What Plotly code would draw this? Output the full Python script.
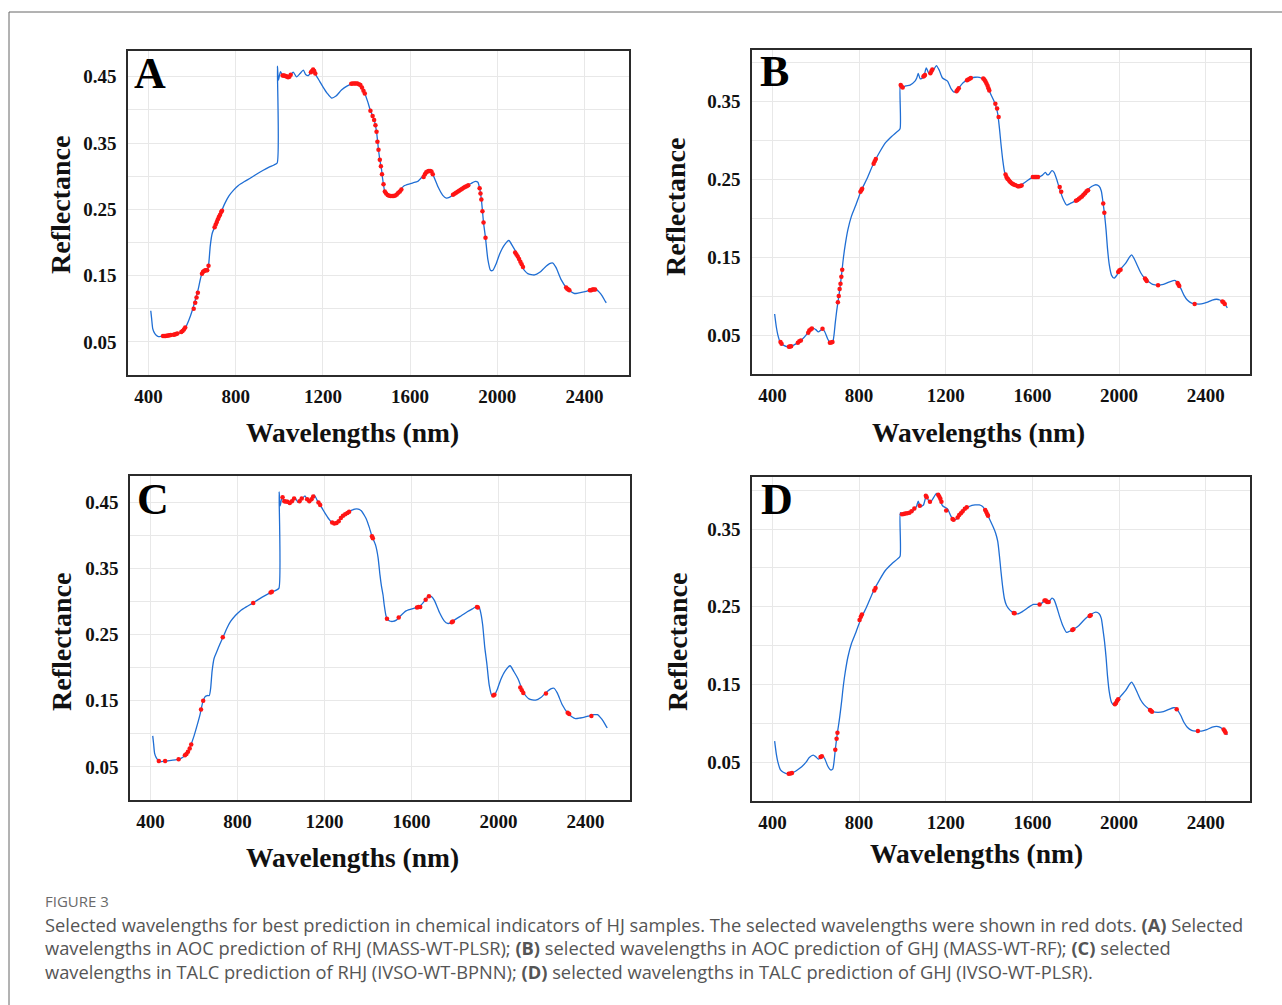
import plotly.graph_objects as go

W, H = 1282, 1005

# ---------------- data ----------------
# RHJ mean spectrum (panels A and C)
RHJ_WL = [410, 414, 419, 426, 435, 445, 460, 475, 495, 520, 540, 555, 570, 585, 600, 615, 628, 640,
          650, 660, 670, 676, 683, 692, 703, 718, 733, 750, 768, 790, 812, 840, 866, 895, 926, 955,
          975, 990, 991, 996, 1005, 1015, 1030, 1042, 1052, 1064, 1079, 1095, 1110, 1122, 1133, 1145,
          1153, 1165, 1180, 1200, 1220, 1240, 1260, 1285, 1310, 1339, 1355, 1369, 1382, 1392, 1405,
          1418, 1435, 1446, 1455, 1461, 1469, 1474, 1484, 1497, 1514, 1530, 1545, 1575, 1613, 1634,
          1655, 1675, 1690, 1705, 1728, 1750, 1766, 1780, 1797, 1830, 1858, 1880, 1896, 1911, 1919,
          1927, 1937, 1946, 1957, 1969, 1980, 1995, 2010, 2030, 2053, 2071, 2090, 2114, 2140, 2171,
          2195, 2217, 2240, 2255, 2270, 2293, 2319, 2337, 2354, 2375, 2392, 2415, 2438, 2455, 2468,
          2482, 2496, 2500]
RHJ_REF = [0.097, 0.085, 0.070, 0.064, 0.060, 0.058, 0.0585, 0.059, 0.060, 0.061, 0.063, 0.066, 0.072,
           0.083, 0.097, 0.114, 0.130, 0.148, 0.156, 0.158, 0.158, 0.168, 0.195, 0.214, 0.223, 0.235,
           0.246, 0.259, 0.270, 0.279, 0.286, 0.292, 0.297, 0.303, 0.309, 0.314, 0.317, 0.320, 0.466,
           0.445, 0.458, 0.452, 0.451, 0.449, 0.453, 0.457, 0.450, 0.455, 0.460, 0.453, 0.452, 0.457,
           0.461, 0.454, 0.446, 0.435, 0.425, 0.418, 0.421, 0.430, 0.436, 0.440, 0.440, 0.4375, 0.431,
           0.425, 0.413, 0.399, 0.385, 0.367, 0.340, 0.325, 0.310, 0.296, 0.277, 0.271, 0.270, 0.272,
           0.277, 0.286, 0.290, 0.292, 0.299, 0.307, 0.308, 0.302, 0.284, 0.271, 0.267, 0.268, 0.272,
           0.279, 0.285, 0.289, 0.292, 0.291, 0.282, 0.265, 0.230, 0.207, 0.174, 0.158, 0.158, 0.168,
           0.182, 0.195, 0.203, 0.194, 0.183, 0.163, 0.153, 0.151, 0.155, 0.162, 0.168, 0.169, 0.162,
           0.144, 0.131, 0.126, 0.123, 0.124, 0.125, 0.127, 0.129, 0.129, 0.125, 0.119, 0.111, 0.109]

# GHJ mean spectrum (panels B and D)
GHJ_WL = [410, 418, 425, 437, 450, 470, 490, 510, 535, 555, 570, 588, 600, 612, 622, 632, 642, 655,
          668, 678, 684, 690, 696, 702, 708, 714, 720, 727, 736, 748, 765, 785, 809, 835, 866, 895,
          922, 950, 975, 989, 990, 1000, 1015, 1035, 1058, 1066, 1073, 1082, 1097, 1110, 1120, 1130,
          1145, 1157, 1170, 1185, 1208, 1225, 1238, 1250, 1265, 1280, 1308, 1335, 1355, 1370, 1383,
          1395, 1410, 1420, 1430, 1440, 1448, 1455, 1463, 1471, 1480, 1495, 1515, 1535, 1555, 1580,
          1605, 1630, 1645, 1660, 1668, 1675, 1690, 1700, 1712, 1725, 1740, 1758, 1775, 1795, 1815,
          1835, 1855, 1875, 1893, 1908, 1918, 1926, 1933, 1940, 1947, 1955, 1965, 1977, 1990, 2005,
          2030, 2048, 2058, 2070, 2085, 2100, 2115, 2135, 2155, 2180, 2205, 2230, 2250, 2260, 2270,
          2285, 2300, 2315, 2335, 2355, 2380, 2405, 2430, 2450, 2465, 2480, 2492, 2500]
GHJ_REF = [0.077, 0.060, 0.050, 0.040, 0.037, 0.035, 0.036, 0.039, 0.044, 0.050, 0.056, 0.059, 0.057,
           0.054, 0.056, 0.058, 0.054, 0.045, 0.040, 0.041, 0.050, 0.066, 0.080, 0.092, 0.103, 0.116,
           0.130, 0.148, 0.166, 0.185, 0.203, 0.217, 0.235, 0.250, 0.270, 0.285, 0.297, 0.305, 0.311,
           0.315, 0.371, 0.368, 0.370, 0.371, 0.376, 0.380, 0.386, 0.379, 0.381, 0.393, 0.387, 0.385,
           0.391, 0.396, 0.390, 0.380, 0.376, 0.366, 0.362, 0.363, 0.369, 0.374, 0.379, 0.381, 0.381,
           0.379, 0.374, 0.367, 0.358, 0.352, 0.345, 0.334, 0.315, 0.295, 0.275, 0.260, 0.252, 0.246,
           0.242, 0.241, 0.244, 0.249, 0.253, 0.253, 0.255, 0.259, 0.256, 0.256, 0.261, 0.259, 0.250,
           0.238, 0.226, 0.217, 0.219, 0.222, 0.226, 0.232, 0.237, 0.241, 0.243, 0.241, 0.235, 0.220,
           0.205, 0.185, 0.160, 0.140, 0.127, 0.123, 0.127, 0.134, 0.142, 0.150, 0.153, 0.148, 0.139,
           0.130, 0.124, 0.119, 0.115, 0.114, 0.115, 0.118, 0.120, 0.120, 0.117, 0.110, 0.101, 0.095,
           0.091, 0.090, 0.090, 0.092, 0.095, 0.096, 0.095, 0.092, 0.088, 0.085]

# selected wavelengths (red dots)
A_SEL_WL = [466, 472, 478, 484, 490, 496, 502, 515, 520, 526, 532, 550, 556, 562, 568,
            607, 614, 620, 626, 645, 650, 655, 660, 665, 669, 675,
            703, 708, 713, 718, 723, 728, 733, 737,
            1015, 1020, 1025, 1030, 1035, 1040, 1046, 1052, 1145, 1150, 1155, 1160, 1165,
            1330, 1337, 1344, 1351, 1358, 1365, 1372, 1379, 1386, 1392,
            1418, 1428, 1435, 1441, 1446, 1450, 1455, 1461, 1466, 1471,
            1478, 1484, 1490, 1497, 1504, 1511, 1518, 1525, 1532, 1539, 1546, 1553, 1560,
            1662, 1668, 1674, 1680, 1686, 1692, 1698, 1704,
            1797, 1804, 1811, 1818, 1825, 1832, 1839, 1846, 1853, 1860, 1867,
            1919, 1923, 1927, 1932, 1937, 1946,
            2082, 2088, 2094, 2100, 2106, 2112, 2118,
            2316, 2321, 2326, 2331, 2425, 2431, 2437, 2443, 2449]
A_SEL_REF = [0.0587, 0.0588, 0.059, 0.0593, 0.0596, 0.06, 0.0602, 0.0608, 0.061, 0.0617, 0.0625, 0.0648, 0.0665, 0.0688, 0.0718,
             0.100, 0.109, 0.117, 0.124, 0.153, 0.156, 0.157, 0.158, 0.158, 0.158, 0.165,
             0.223, 0.227, 0.231, 0.235, 0.239, 0.242, 0.246, 0.248,
             0.452, 0.452, 0.4515, 0.451, 0.4505, 0.4495, 0.450, 0.453, 0.457, 0.459, 0.461, 0.459, 0.455,
             0.4395, 0.440, 0.440, 0.440, 0.440, 0.439, 0.4375, 0.434, 0.429, 0.425,
             0.399, 0.391, 0.385, 0.377, 0.367, 0.352, 0.340, 0.325, 0.315, 0.303,
             0.288, 0.277, 0.274, 0.2715, 0.2705, 0.270, 0.270, 0.270, 0.271, 0.2725, 0.275, 0.277, 0.280,
             0.299, 0.303, 0.306, 0.307, 0.308, 0.308, 0.307, 0.303,
             0.272, 0.2735, 0.275, 0.2765, 0.278, 0.2795, 0.281, 0.2825, 0.284, 0.285, 0.2865,
             0.282, 0.274, 0.265, 0.247, 0.230, 0.207,
             0.185, 0.182, 0.179, 0.175, 0.171, 0.167, 0.163,
             0.132, 0.130, 0.129, 0.128, 0.128, 0.128, 0.129, 0.129, 0.129]

B_SEL_WL = [437, 442, 476, 481, 486, 517, 524, 531, 565, 570, 576, 582, 631, 665, 671, 677,
            702, 706, 710, 714, 718, 722, 806, 810, 814, 867, 872, 877,
            992, 996, 1001, 1097, 1101, 1104, 1129, 1134, 1138, 1250, 1255, 1260,
            1298, 1304, 1310, 1316, 1373, 1378, 1383, 1388, 1393, 1397, 1401,
            1429, 1437, 1444, 1476, 1480, 1484, 1488, 1493, 1498, 1504, 1510, 1516, 1523,
            1533, 1538, 1544, 1550, 1602, 1608, 1614, 1620, 1626, 1726, 1733,
            1801, 1808, 1815, 1822, 1829, 1836, 1843, 1850, 1857, 1927, 1932,
            1996, 2001, 2007, 2120, 2124, 2128, 2180, 2270, 2274, 2278, 2349, 2477, 2482, 2488]
B_SEL_REF = [0.041, 0.039, 0.035, 0.0353, 0.0357, 0.040, 0.042, 0.043, 0.053, 0.056, 0.057, 0.0585, 0.058, 0.040, 0.0405, 0.041,
             0.092, 0.100, 0.109, 0.116, 0.125, 0.134, 0.234, 0.236, 0.238, 0.270, 0.273, 0.276,
             0.371, 0.369, 0.368, 0.382, 0.383, 0.384, 0.386, 0.389, 0.391, 0.363, 0.365, 0.367,
             0.377, 0.378, 0.379, 0.380, 0.3795, 0.378, 0.376, 0.373, 0.370, 0.367, 0.364,
             0.347, 0.341, 0.330, 0.256, 0.253, 0.251, 0.250, 0.248, 0.2465, 0.245, 0.244, 0.243, 0.2422,
             0.241, 0.241, 0.2415, 0.242, 0.253, 0.253, 0.253, 0.253, 0.253, 0.240, 0.234,
             0.2225, 0.2235, 0.225, 0.2265, 0.228, 0.230, 0.232, 0.2345, 0.236, 0.219, 0.207,
             0.131, 0.133, 0.134, 0.1225, 0.121, 0.1195, 0.114, 0.117, 0.115, 0.113, 0.090, 0.093, 0.092, 0.090]

C_SEL_WL = [438, 467, 529, 558, 565, 572, 580, 587, 632, 642, 732, 872, 952, 958,
            1007, 1015, 1022, 1030, 1040, 1050, 1060, 1085, 1095, 1120, 1130, 1140, 1148,
            1172, 1180, 1235, 1245, 1255, 1265, 1275, 1285, 1295, 1305, 1313, 1418, 1422,
            1487, 1541, 1625, 1632, 1640, 1665, 1680, 1785, 1790, 1901, 1905, 1976, 1981,
            2100, 2107, 2114, 2218, 2318, 2325, 2427]
C_SEL_REF = [0.059, 0.059, 0.0615, 0.0675, 0.0695, 0.073, 0.078, 0.084, 0.137, 0.150, 0.246, 0.298, 0.314, 0.315,
             0.458, 0.452, 0.4515, 0.451, 0.449, 0.452, 0.456, 0.452, 0.456, 0.455, 0.452, 0.455, 0.459,
             0.450, 0.446, 0.4195, 0.418, 0.419, 0.4215, 0.4265, 0.430, 0.432, 0.434, 0.436, 0.399, 0.396,
             0.274, 0.276, 0.291, 0.292, 0.292, 0.303, 0.308, 0.269, 0.270, 0.292, 0.291, 0.158, 0.159,
             0.170, 0.166, 0.162, 0.161, 0.132, 0.130, 0.127]

D_SEL_WL = [475, 483, 490, 622, 628, 690, 696, 700, 802, 808, 813, 870, 876,
            998, 1006, 1013, 1022, 1032, 1042, 1055, 1080, 1108, 1112, 1127, 1165, 1170, 1175, 1180,
            1202, 1231, 1236, 1255, 1262, 1270, 1278, 1288, 1297, 1382, 1387, 1392, 1395,
            1514, 1518, 1633, 1656, 1662, 1668, 1675, 1784, 1789, 1864, 1869,
            1981, 1986, 1991, 1996, 2143, 2147, 2152, 2266, 2364, 2483, 2488, 2492]
D_SEL_REF = [0.035, 0.0355, 0.036, 0.0565, 0.0575, 0.066, 0.080, 0.088, 0.233, 0.237, 0.240, 0.271, 0.274,
             0.369, 0.3695, 0.370, 0.3705, 0.371, 0.373, 0.3765, 0.380, 0.393, 0.391, 0.385, 0.394, 0.392, 0.389, 0.385,
             0.374, 0.363, 0.362, 0.365, 0.368, 0.3705, 0.373, 0.376, 0.378, 0.3745, 0.372, 0.369, 0.367,
             0.242, 0.2415, 0.253, 0.258, 0.258, 0.256, 0.256, 0.220, 0.221, 0.238, 0.239,
             0.1245, 0.126, 0.129, 0.131, 0.117, 0.116, 0.115, 0.118, 0.090, 0.092, 0.090, 0.088]

PANELS = ["A", "B", "C", "D"]
X_TICKS = [400, 800, 1200, 1600, 2000, 2400]
Y_TICKS_AC = [0.05, 0.15, 0.25, 0.35, 0.45]
Y_TICKS_BD = [0.05, 0.15, 0.25, 0.35]
X_TITLE = "Wavelengths (nm)"
Y_TITLE = "Reflectance"
CAPTION_HEAD = "FIGURE 3"
CAPTION_LINES = [
    "Selected wavelengths for best prediction in chemical indicators of HJ samples. The selected wavelengths were shown in red dots. <b>(A)</b> Selected",
    "wavelengths in AOC prediction of RHJ (MASS-WT-PLSR); <b>(B)</b> selected wavelengths in AOC prediction of GHJ (MASS-WT-RF); <b>(C)</b> selected",
    "wavelengths in TALC prediction of RHJ (IVSO-WT-BPNN); <b>(D)</b> selected wavelengths in TALC prediction of GHJ (IVSO-WT-PLSR).",
]

# ---------------- layout geometry (pixels) ----------------
def fx(px):
    return px / W

def fy(py):
    return 1 - py / H

boxes = {  # left, right, top, bottom
    "A": (128, 629, 51, 375),
    "B": (752, 1250, 50, 374),
    "C": (130, 630, 476, 800),
    "D": (752, 1250, 477, 801),
}
yranges = {"A": [0.0, 0.489], "B": [0.0, 0.416], "C": [0.0, 0.490], "D": [0.0, 0.417]}
spectra = {"A": (RHJ_WL, RHJ_REF), "B": (GHJ_WL, GHJ_REF), "C": (RHJ_WL, RHJ_REF), "D": (GHJ_WL, GHJ_REF)}
sel = {"A": (A_SEL_WL, A_SEL_REF), "B": (B_SEL_WL, B_SEL_REF), "C": (C_SEL_WL, C_SEL_REF), "D": (D_SEL_WL, D_SEL_REF)}
yticks = {"A": Y_TICKS_AC, "B": Y_TICKS_BD, "C": Y_TICKS_AC, "D": Y_TICKS_BD}
letter_pos = {"A": (150, 73), "B": (774, 72), "C": (153, 499), "D": (777, 500)}
ytitle_pos = {"A": (61, 205), "B": (675, 207), "C": (61, 642), "D": (677, 642)}
xtitle_pos = {"A": (352, 433), "B": (978, 432), "C": (352, 857), "D": (977, 853)}

SERIF = "Liberation Serif, Times New Roman, serif"
LINE_BLUE = "#1f6ed4"
DOT_RED = "#ff1414"
GRID = "#e8e8e8"

fig = go.Figure()
layout = {}
annotations = []

for i, p in enumerate(PANELS):
    n = "" if i == 0 else str(i + 1)
    xa, ya = "x" + n, "y" + n
    wl, ref = spectra[p]
    fig.add_trace(go.Scatter(x=wl, y=ref, mode="lines", xaxis=xa, yaxis=ya,
                             line=dict(color=LINE_BLUE, width=1.3, shape="spline", smoothing=0.6),
                             showlegend=False, hoverinfo="skip"))
    swl, sref = sel[p]
    fig.add_trace(go.Scatter(x=swl, y=sref, mode="markers", xaxis=xa, yaxis=ya,
                             marker=dict(color=DOT_RED, size=4.5, line=dict(width=0)),
                             showlegend=False, hoverinfo="skip"))
    l, r, t, b = boxes[p]
    layout["xaxis" + n] = dict(
        domain=[fx(l), fx(r)], anchor=ya, range=[305.5, 2604.5],
        tickmode="array", tickvals=X_TICKS, ticktext=[str(v) for v in X_TICKS],
        showgrid=True, gridcolor=GRID, gridwidth=1, zeroline=False,
        showline=True, mirror=True, linecolor="#2b2b2b", linewidth=1.6,
        ticks="", ticklabelstandoff=3,
        tickfont=dict(family=SERIF, size=19, color="#111111", weight="bold"),
    )
    layout["yaxis" + n] = dict(
        domain=[fy(b), fy(t)], anchor=xa, range=yranges[p],
        tickmode="array", tickvals=yticks[p], ticktext=["%.2f" % v for v in yticks[p]],
        showgrid=True, gridcolor=GRID, gridwidth=1, zeroline=False,
        minor=dict(tickmode="array", tickvals=[0.1, 0.2, 0.3, 0.4], showgrid=True, gridcolor=GRID, gridwidth=1),
        showline=True, mirror=True, linecolor="#2b2b2b", linewidth=1.6,
        ticks="", ticklabelstandoff=6,
        tickfont=dict(family=SERIF, size=19, color="#111111", weight="bold"),
    )
    lx, ly = letter_pos[p]
    annotations.append(dict(text=p, x=fx(lx), y=fy(ly), xref="paper", yref="paper",
                            xanchor="center", yanchor="middle", showarrow=False,
                            font=dict(family=SERIF, size=44, color="black", weight="bold")))
    tx, ty = ytitle_pos[p]
    annotations.append(dict(text=Y_TITLE, x=fx(tx), y=fy(ty), xref="paper", yref="paper",
                            xanchor="center", yanchor="middle", showarrow=False, textangle=-90,
                            font=dict(family=SERIF, size=28, color="#111111", weight="bold")))
    tx, ty = xtitle_pos[p]
    annotations.append(dict(text=X_TITLE, x=fx(tx), y=fy(ty), xref="paper", yref="paper",
                            xanchor="center", yanchor="middle", showarrow=False,
                            font=dict(family=SERIF, size=27.5, color="#111111", weight="bold")))

# caption
annotations.append(dict(text=CAPTION_HEAD, x=fx(43), y=fy(901), xref="paper", yref="paper",
                        xanchor="left", yanchor="middle", showarrow=False,
                        font=dict(family="Open Sans, sans-serif", size=15, color="#6a6a6a")))
for k, line in enumerate(CAPTION_LINES):
    annotations.append(dict(text=line, x=fx(43), y=fy(924 + k * 23.7), xref="paper", yref="paper",
                            xanchor="left", yanchor="middle", showarrow=False,
                            font=dict(family="Open Sans, sans-serif", size=18.3, color="#555555")))

shapes = [
    dict(type="line", xref="paper", yref="paper", x0=fx(9), x1=1, y0=fy(12), y1=fy(12),
         line=dict(color="#666666", width=1)),
    dict(type="line", xref="paper", yref="paper", x0=fx(9), x1=fx(9), y0=fy(12), y1=0,
         line=dict(color="#666666", width=1)),
]

fig.update_layout(width=W, height=H, margin=dict(l=0, r=0, t=0, b=0),
                  paper_bgcolor="white", plot_bgcolor="white",
                  annotations=annotations, shapes=shapes, **layout)

fig.write_html("out.html", config={"displayModeBar": False},
               post_script="document.body.style.margin='0px';document.body.style.overflow='hidden';")
